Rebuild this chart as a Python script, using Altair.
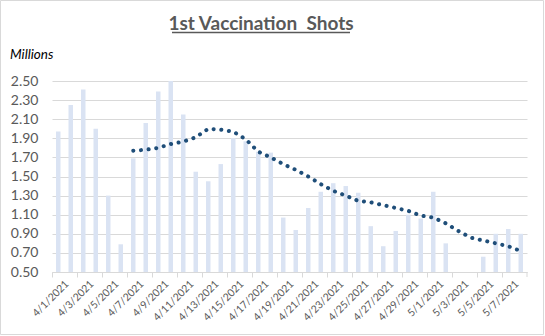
import altair as alt
import pandas as pd

# ---- data ----
dates = [f"4/{d}/2021" for d in range(1, 31)] + [f"5/{d}/2021" for d in range(1, 9)]
shots = [1.97, 2.25, 2.41, 2.00, 1.30, 0.79, 1.69, 2.06, 2.39, 2.50,
         2.15, 1.55, 1.45, 1.63, 1.90, 1.87, 1.76, 1.75, 1.07, 0.94,
         1.17, 1.34, 1.43, 1.40, 1.33, 0.98, 0.77, 0.93, 1.10, 1.06,
         1.34, 0.80, None, None, 0.66, 0.90, 0.95, 0.90]
trend_dates = dates[6:]
trend = [1.77, 1.78, 1.80, 1.84, 1.865, 1.91, 2.00, 1.99, 1.97, 1.89,
         1.76, 1.70, 1.63, 1.57, 1.50, 1.42, 1.35, 1.30, 1.245, 1.23,
         1.20, 1.17, 1.14, 1.09, 1.07, 1.01, 0.93, 0.86, 0.83, 0.80,
         0.77, 0.72]
y_ticks = [0.5, 0.7, 0.9, 1.1, 1.3, 1.5, 1.7, 1.9, 2.1, 2.3, 2.5]
x_label_dates = dates[::2]
title_text = "1st Vaccination \u00a0Shots"
unit_text = "Millions"

FONT = "Lato"
GRAY = "#595959"
GRID = "#D9D9D9"

bars_df = pd.DataFrame({"date": dates, "shots": shots})
trend_df = pd.DataFrame({"date": trend_dates, "avg": trend})

x_scale = alt.Scale(domain=dates, paddingInner=0.0, paddingOuter=0.0)
y_scale = alt.Scale(domain=[0.5, 2.5], nice=False, zero=False)

x_axis = alt.Axis(
    title=None, values=x_label_dates, bandPosition=0, labelAngle=-45,
    labelAlign="right", labelBaseline="middle", labelOffset=9, labelPadding=5,
    labelFont=FONT, labelFontSize=10.5, labelColor=GRAY, labelOverlap=False,
    domainColor=GRID, tickColor=GRID, tickSize=5, grid=False,
)
y_axis = alt.Axis(
    title=None, values=y_ticks, format=".2f", domain=False, ticks=False,
    labelFont=FONT, labelFontSize=14, labelColor=GRAY, labelPadding=14,
    labelOverlap=False, gridColor=GRID, gridWidth=1,
)

bars = alt.Chart(bars_df).mark_bar(size=4.5, color="#DAE3F3").encode(
    x=alt.X("date:N", sort=None, scale=x_scale, axis=x_axis),
    y=alt.Y("shots:Q", scale=y_scale, axis=y_axis),
    y2=alt.datum(0.5),
)

line = alt.Chart(trend_df).mark_line(
    color="#1F4E79", strokeWidth=4, strokeCap="round", strokeDash=[0.1, 7.6]
).encode(
    x=alt.X("date:N", sort=None, scale=x_scale, axis=x_axis),
    y=alt.Y("avg:Q", scale=y_scale, axis=y_axis),
)

end_tick = alt.Chart(pd.DataFrame({"k": [0]})).mark_rule(color=GRID).encode(
    x=alt.value(475), y=alt.value(191), y2=alt.value(196)
)

title = alt.Chart(pd.DataFrame({"t": [title_text]})).mark_text(
    font=FONT, fontSize=19, fontWeight="bold", color=GRAY, align="center",
    baseline="alphabetic"
).encode(x=alt.value(209), y=alt.value(-51), text="t:N")

underline = alt.Chart(pd.DataFrame({"k": [0]})).mark_rule(color=GRAY, strokeWidth=1.3).encode(
    x=alt.value(120), x2=alt.value(298), y=alt.value(-48.5)
)

unit = alt.Chart(pd.DataFrame({"t": [unit_text]})).mark_text(
    font=FONT, fontSize=13.5, fontStyle="italic", color="#000000", align="left",
    baseline="alphabetic"
).encode(x=alt.value(-42), y=alt.value(-22), text="t:N")

border = alt.Chart(pd.DataFrame({"k": [0]})).mark_rect(
    fill=None, stroke=GRID, strokeWidth=1
).encode(
    x=alt.value(-51.5), x2=alt.value(491.5), y=alt.value(-80.5), y2=alt.value(253.5)
)

chart = alt.layer(bars, line, end_tick, title, underline, unit, border).properties(
    width=475, height=191,
    padding={"left": 52, "top": 81, "right": 18, "bottom": 64},
    autosize="none",
    background="white",
).configure_view(strokeWidth=0)

chart.save("out.html", embed_options={"renderer": "svg", "actions": False})
